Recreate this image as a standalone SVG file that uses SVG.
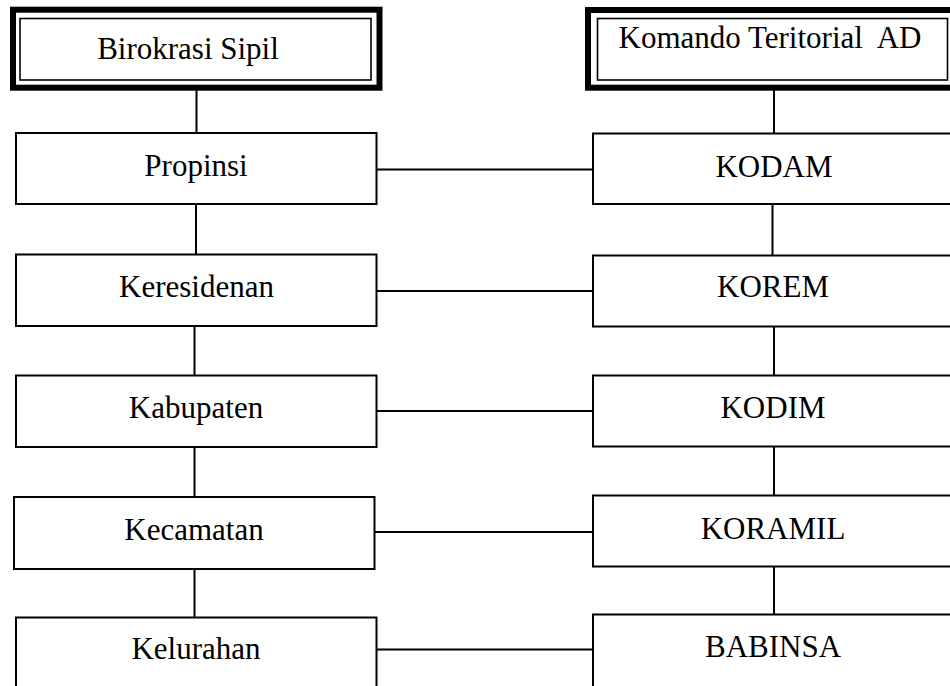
<svg xmlns="http://www.w3.org/2000/svg" width="950" height="686" viewBox="0 0 950 686">
<style>
.box{fill:#fff;stroke:#000;stroke-width:2}
.outer{fill:#fff;stroke:#000;stroke-width:6}
.inner{fill:none;stroke:#000;stroke-width:1.6}
.ln{stroke:#000;stroke-width:2;fill:none}
text{font-family:"Liberation Serif","Times New Roman",serif;font-size:31px;fill:#000;text-anchor:middle}
</style>
<rect width="950" height="686" fill="#fff"/>
<g id="connectors">
<line class="ln" x1="196.5" y1="90" x2="196.5" y2="133"/>
<line class="ln" x1="196" y1="204" x2="196" y2="255"/>
<line class="ln" x1="194.5" y1="326" x2="194.5" y2="376"/>
<line class="ln" x1="194.5" y1="447" x2="194.5" y2="497"/>
<line class="ln" x1="194.5" y1="569" x2="194.5" y2="618"/>
<line class="ln" x1="774" y1="90" x2="774" y2="134"/>
<line class="ln" x1="772.5" y1="204" x2="772.5" y2="256"/>
<line class="ln" x1="774" y1="327" x2="774" y2="376"/>
<line class="ln" x1="774" y1="447" x2="774" y2="496"/>
<line class="ln" x1="774" y1="567" x2="774" y2="615"/>
<line class="ln" x1="376.5" y1="169.5" x2="593" y2="169.5"/>
<line class="ln" x1="376.5" y1="291" x2="593" y2="291"/>
<line class="ln" x1="376.5" y1="411" x2="593" y2="411"/>
<line class="ln" x1="374.5" y1="532" x2="593" y2="532"/>
<line class="ln" x1="376.5" y1="649.5" x2="593" y2="649.5"/>
</g>
<g id="birokrasi">
<rect class="outer" x="13" y="9.7" width="366.5" height="78"/>
<rect class="inner" x="20" y="18.5" width="351" height="61.5"/>
<text x="188" y="59">Birokrasi Sipil</text>
</g>
<g id="komando">
<rect class="outer" x="588" y="10" width="370" height="77.7"/>
<rect class="inner" x="597.5" y="18.5" width="350" height="61.5"/>
<text x="770" y="48" xml:space="preserve">Komando Teritorial  AD</text>
</g>
<g id="propinsi"><rect class="box" x="16" y="133" width="360.5" height="71"/><text x="196" y="176">Propinsi</text></g>
<g id="keresidenan"><rect class="box" x="16" y="254.5" width="360.5" height="71.5"/><text x="196.5" y="297">Keresidenan</text></g>
<g id="kabupaten"><rect class="box" x="16" y="375.5" width="360.5" height="71.5"/><text x="196" y="418">Kabupaten</text></g>
<g id="kecamatan"><rect class="box" x="14" y="497" width="360.5" height="72"/><text x="194" y="540">Kecamatan</text></g>
<g id="kelurahan"><rect class="box" x="16" y="617.5" width="360.5" height="80"/><text x="196" y="659">Kelurahan</text></g>
<g id="kodam"><rect class="box" x="593" y="133.5" width="370" height="70.5"/><text x="774" y="177">KODAM</text></g>
<g id="korem"><rect class="box" x="593" y="255.5" width="370" height="71"/><text x="773" y="297">KOREM</text></g>
<g id="kodim"><rect class="box" x="593" y="375.5" width="370" height="71"/><text x="773" y="418">KODIM</text></g>
<g id="koramil"><rect class="box" x="593" y="495.5" width="370" height="71"/><text x="773" y="539">KORAMIL</text></g>
<g id="babinsa"><rect class="box" x="593" y="614.5" width="370" height="80"/><text x="773" y="657">BABINSA</text></g>
</svg>
